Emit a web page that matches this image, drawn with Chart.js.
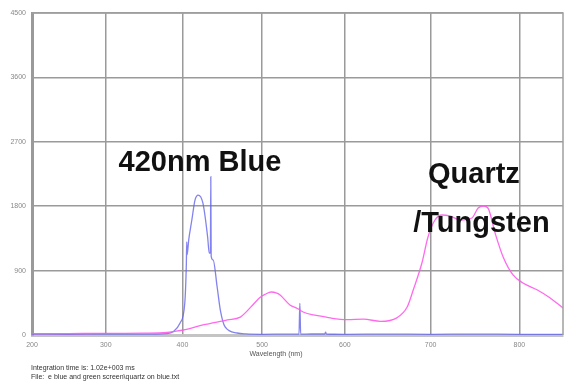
<!DOCTYPE html>
<html>
<head>
<meta charset="utf-8">
<script src="https://cdn.jsdelivr.net/npm/chart.js@4"></script>
<style>
  html, body { margin: 0; padding: 0; background: #fff; }
  #wrap { width: 565px; height: 381px; }
</style>
</head>
<body>
<div id="wrap"><canvas id="spectrum"></canvas></div>
<script>
// wavelength (nm) / counts
const blueWl  = [200, 250, 300, 350, 380, 388, 397, 403, 405, 405.5, 406, 408, 412, 416, 420, 426, 432, 434, 435.5, 436, 436.5, 439, 444, 448, 454, 469, 480, 500, 530, 545, 546, 547, 560, 576, 577, 578, 600, 650, 700, 750, 800, 848];
const blueVal = [12, 10, 14, 12, 20, 45, 168, 447, 1000, 1300, 1120, 1330, 1607, 1886, 1956, 1845, 1370, 1146, 1146, 2212, 1100, 1048, 671, 349, 112, 28, 15, 10, 12, 12, 443, 12, 14, 14, 40, 14, 10, 12, 10, 12, 10, 10];

const pinkWl  = [200, 250, 300, 350, 380, 390, 401, 426, 457, 473, 481, 490, 498, 504, 511, 518, 522, 534, 543, 550, 562, 571, 583, 603, 622, 642, 661, 673, 680, 690, 697, 705, 713, 722, 734, 747, 754, 760, 765, 773, 782, 793, 804, 820, 834, 848];
const pinkVal = [18, 20, 22, 25, 35, 50, 70, 140, 210, 250, 330, 440, 531, 570, 601, 585, 559, 420, 370, 321, 280, 265, 238, 215, 222, 190, 240, 391, 629, 1006, 1370, 1607, 1677, 1663, 1607, 1635, 1775, 1803, 1775, 1425, 1090, 839, 727, 629, 517, 377];

const xTicks = [200, 300, 400, 500, 600, 700, 800];
const yTicks = [0, 900, 1800, 2700, 3600, 4500];

const infoLines = [
  'Integration time is: 1.02e+003 ms',
  'File:  e blue and green screen\\quartz on blue.txt'
];

// spectrometer pixel axis is not linear in wavelength
function calib(w) {
  const u = (w - 200) / 100;
  return 72.17 * u + 1.5 * u * u;
}
function uncalib(p) {
  const u = (-72.17 + Math.sqrt(72.17 * 72.17 + 6 * p)) / 3;
  return 200 + 100 * u;
}

class WavelengthScale extends Chart.LinearScale {
  getPixelForValue(value) {
    const lo = calib(this.min), hi = calib(this.max);
    return this.getPixelForDecimal((calib(value) - lo) / (hi - lo));
  }
  getValueForPixel(pixel) {
    const lo = calib(this.min), hi = calib(this.max);
    return uncalib(lo + this.getDecimalForPixel(pixel) * (hi - lo));
  }
}
WavelengthScale.id = 'wavelength';
WavelengthScale.defaults = Chart.LinearScale.defaults;
Chart.register(WavelengthScale);

const overlay = {
  id: 'overlay',
  afterDatasetsDraw(chart) {
    const { ctx, chartArea: a, scales: { x, y } } = chart;
    ctx.save();
    ctx.strokeStyle = '#a0a0a0';
    ctx.lineWidth = 1.5;
    ctx.beginPath();
    ctx.moveTo(a.left, a.top);
    ctx.lineTo(a.right, a.top);
    ctx.lineTo(a.right, a.bottom);
    ctx.stroke();

    ctx.fillStyle = '#111';
    ctx.font = 'bold 29px "Liberation Sans", Arial, sans-serif';
    ctx.textBaseline = 'alphabetic';
    ctx.textAlign = 'left';
    ctx.fillText('420nm Blue', x.getPixelForValue(317), y.getPixelForValue(2290));
    ctx.fillText('Quartz', x.getPixelForValue(697), y.getPixelForValue(2124));
    ctx.fillText('/Tungsten', x.getPixelForValue(680), y.getPixelForValue(1439));

    ctx.fillStyle = '#555';
    ctx.font = '7px "Liberation Sans", Arial, sans-serif';
    ctx.textAlign = 'center';
    ctx.textBaseline = 'middle';
    ctx.fillText('Wavelength (nm)', 276, 354);
    ctx.textAlign = 'left';
    ctx.fillStyle = '#333';
    ctx.fillText(infoLines[0], 31, 368);
    ctx.fillText(infoLines[1], 31, 377);
    ctx.restore();
  }
};

new Chart(document.getElementById('spectrum'), {
  type: 'line',
  data: {
    datasets: [
      {
        label: 'Quartz/Tungsten',
        data: pinkWl.map((w, i) => ({ x: w, y: pinkVal[i] })),
        borderColor: 'rgba(255,90,235,0.9)',
        borderWidth: 1.3,
        pointRadius: 0,
        cubicInterpolationMode: 'monotone',
        fill: false
      },
      {
        label: 'Blue screen',
        data: blueWl.map((w, i) => ({ x: w, y: blueVal[i] })),
        borderColor: 'rgba(100,100,235,0.8)',
        borderWidth: 1.3,
        pointRadius: 0,
        cubicInterpolationMode: 'monotone',
        fill: false
      }
    ]
  },
  options: {
    responsive: true,
    maintainAspectRatio: false,
    animation: false,
    layout: { padding: { left: 0, right: 2, top: 13, bottom: 0 } },
    plugins: { legend: { display: false }, tooltip: { enabled: false } },
    scales: {
      x: {
        type: 'wavelength',
        min: 200,
        max: 848,
        afterBuildTicks: s => { s.ticks = xTicks.map(v => ({ value: v })); },
        afterFit: s => { s.height = 46; },
        ticks: { font: { size: 7, family: '"Liberation Sans", Arial' }, color: '#888', padding: 6, maxRotation: 0, callback: v => String(v) },
        grid: { color: '#9a9a9a', lineWidth: 1.5, drawTicks: false },
        border: { color: '#c4c4c4', width: 3 }
      },
      y: {
        min: 0,
        max: 4500,
        afterBuildTicks: s => { s.ticks = yTicks.map(v => ({ value: v })); },
        afterFit: s => { s.width = 32; },
        ticks: { font: { size: 7, family: '"Liberation Sans", Arial' }, color: '#888', padding: 6, callback: v => String(v) },
        grid: { color: '#9a9a9a', lineWidth: 1.5, drawTicks: false },
        border: { color: '#9a9a9a', width: 3 }
      }
    }
  },
  plugins: [overlay]
});
</script>
</body>
</html>
